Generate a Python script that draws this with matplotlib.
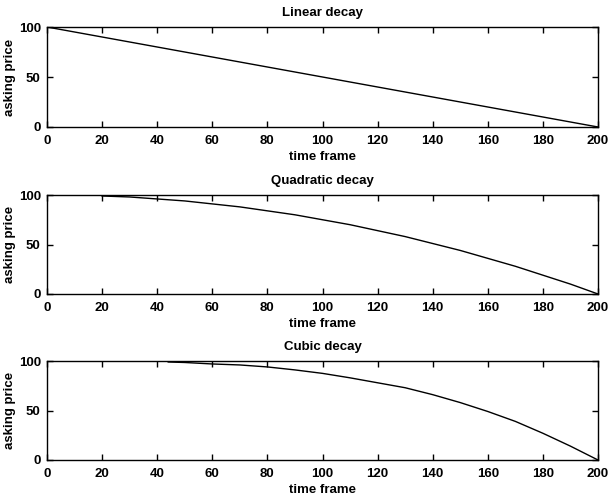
import matplotlib
matplotlib.use("Agg")
import matplotlib.pyplot as plt

# Data
linear_t = [0, 200]
linear_price = [100, 0]

quad_t = [20, 30, 40, 50, 60, 70, 80, 90, 100, 110, 120, 130, 140, 150, 160, 170, 180, 190, 200]
quad_price = [99, 98, 96, 94, 91, 88, 84, 80, 75, 70, 64, 58, 51, 44, 36, 28, 19, 10, 0]

cubic_t = [44, 50, 60, 70, 80, 90, 100, 110, 120, 130, 140, 150, 160, 170, 180, 190, 200]
cubic_price = [99, 98.5, 97, 96, 94, 91, 87.5, 83, 78, 73, 66, 58, 49, 39, 27, 14, 0]

titles = ["Linear decay", "Quadratic decay", "Cubic decay"]
xticks = list(range(0, 201, 20))
yticks = [0, 50, 100]

plt.rcParams['font.family'] = ['Liberation Sans', 'DejaVu Sans']
plt.rcParams['font.weight'] = 'bold'
FS = 9.5

fig = plt.figure(figsize=(6.10, 4.99), dpi=100)
W, H = 610, 499
# axes boxes in pixels: (left, top, right, bottom)
boxes = [(47, 27, 598, 127), (47, 195, 598, 294), (47, 361, 598, 460)]
series = [(linear_t, linear_price), (quad_t, quad_price), (cubic_t, cubic_price)]

for (l, t, r, b), (xs, ys), title in zip(boxes, series, titles):
    ax = fig.add_axes([l / W, 1 - b / H, (r - l) / W, (b - t) / H])
    ax.plot(xs, ys, color='black', linewidth=1.0)
    ax.set_xlim(0, 200)
    ax.set_ylim(0, 100)
    ax.set_xticks(xticks)
    ax.set_yticks(yticks)
    ax.tick_params(direction='in', length=4, width=1, top=True, right=True,
                   labelsize=FS)
    ax.tick_params(axis='x', pad=5.5)
    ax.tick_params(axis='y', pad=4.5)
    for s in ax.spines.values():
        s.set_linewidth(1.0)
    ax.set_title(title, fontsize=FS, fontweight='bold', pad=8)
    ax.set_xlabel("time frame", fontsize=FS, fontweight='bold', labelpad=3)
    ax.set_ylabel("asking price", fontsize=FS, fontweight='bold', labelpad=2)

fig.savefig("out.png", dpi=100, facecolor='white')
